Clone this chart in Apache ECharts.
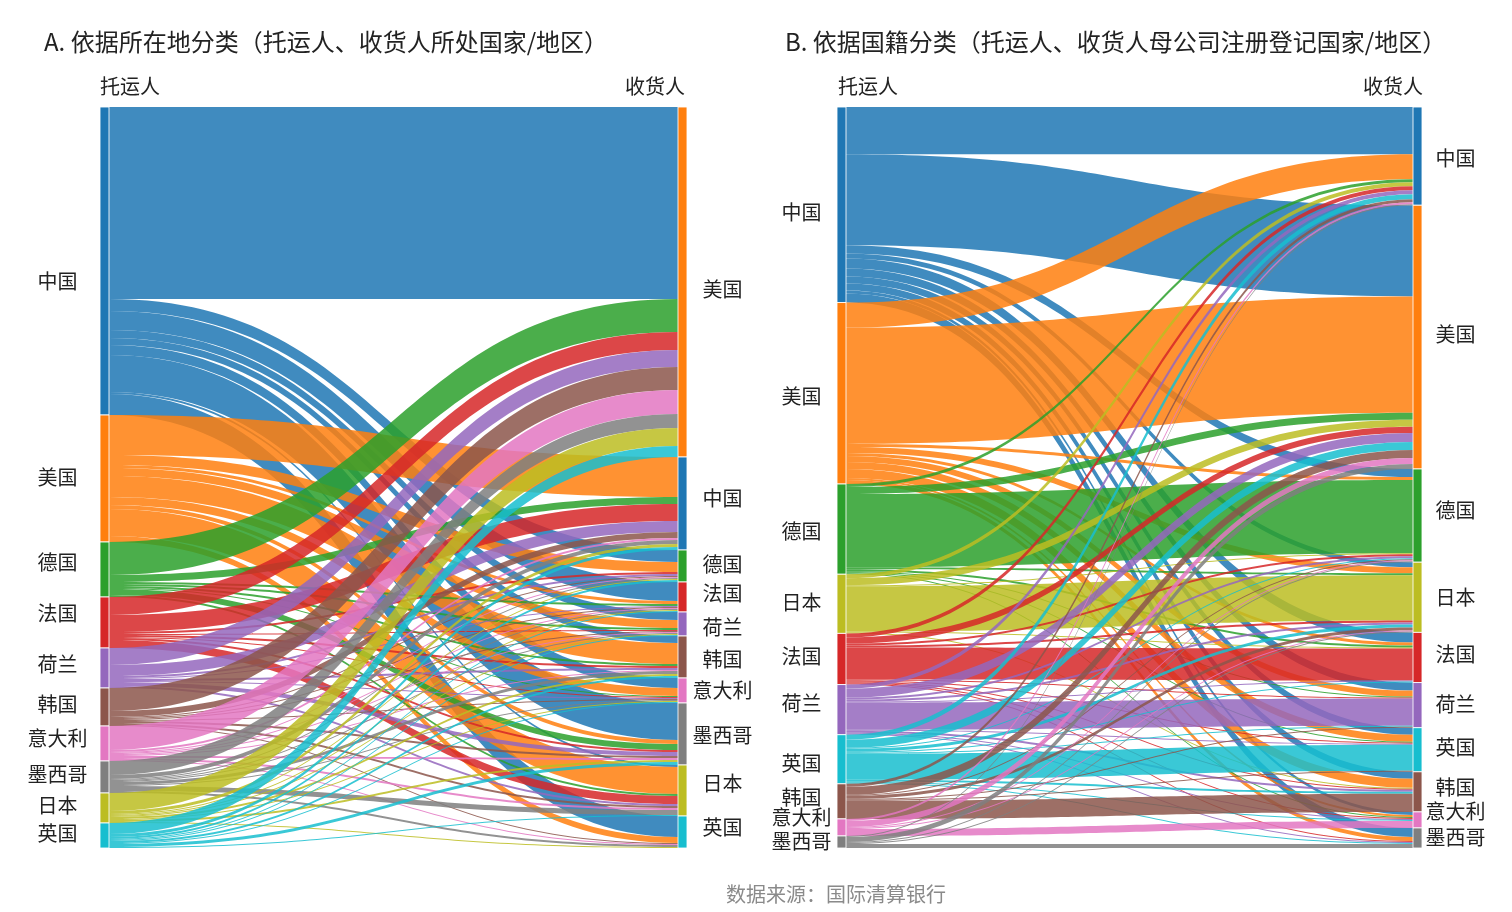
<!DOCTYPE html>
<html>
<head>
<meta charset="utf-8">
<title>托运人与收货人</title>
<script src="https://cdn.jsdelivr.net/npm/echarts@6/dist/echarts.min.js"></script>
<style>
html,body{margin:0;padding:0;background:#fff}
#main{width:1512px;height:912px}
</style>
</head>
<body>
<div id="main"></div>
<script>
var FONT = '"Noto Sans CJK SC", "Noto Sans", sans-serif';

// 国家颜色
var countryNames = ['中国','美国','德国','法国','荷兰','韩国','意大利','墨西哥','日本','英国'];
var countryColors = ['#1f77b4','#ff7f0e','#2ca02c','#d62728','#9467bd','#8c564b','#e377c2','#7f7f7f','#bcbd22','#17becf'];

// A. 依据所在地分类
var aShippers = ['中国','美国','德国','法国','荷兰','韩国','意大利','墨西哥','日本','英国'];
var aConsignees = ['美国','中国','德国','法国','荷兰','韩国','意大利','墨西哥','日本','英国'];
// 每行一个托运人, 列顺序同 aConsignees
var aFromChina   = [192, 0, 12, 19, 8, 7, 10, 37, 2, 21];
var aFromUS      = [0, 40, 10, 3, 8, 21, 8, 4, 27, 6];
var aFromGermany = [33, 7, 0, 2, 2, 2, 1, 6, 2, 0];
var aFromFrance  = [18, 17, 2, 0, 1, 2, 1, 2, 8, 0];
var aFromNL      = [17, 11, 2, 1, 0, 2, 1, 4, 2, 0];
var aFromKorea   = [23, 6, 1, 1, 1, 0, 1, 2, 2, 1];
var aFromItaly   = [24, 2, 1, 1, 1, 1, 0, 2, 2, 1];
var aFromMexico  = [14, 4, 1, 1, 1, 3, 1, 0, 5, 2];
var aFromJapan   = [18, 3, 1, 1, 1, 2, 1, 2, 0, 1];
var aFromUK      = [11, 3, 2, 1, 1, 2, 1, 3, 1, 0];
var aRows = [aFromChina, aFromUS, aFromGermany, aFromFrance, aFromNL, aFromKorea, aFromItaly, aFromMexico, aFromJapan, aFromUK];

// B. 依据国籍分类
var bShippers = ['中国','美国','德国','日本','法国','荷兰','英国','韩国','意大利','墨西哥'];
var bConsignees = ['中国','美国','德国','日本','法国','荷兰','英国','韩国','意大利','墨西哥'];
var bFromChina   = [47, 91, 8, 5, 10, 8, 7, 7, 3, 9];
var bFromUS      = [25, 116, 3, 6, 3, 6, 7, 9, 2, 4];
var bFromGermany = [3, 7, 73, 2, 2, 1, 1, 0, 1, 0];
var bFromJapan   = [4, 7, 1, 45, 1, 0, 0, 1, 0, 0];
var bFromFrance  = [4, 6, 2, 2, 32, 1, 1, 1, 1, 1];
var bFromNL      = [4, 9, 2, 2, 1, 27, 1, 2, 1, 1];
var bFromUK      = [5, 8, 1, 3, 1, 1, 26, 2, 1, 1];
var bFromKorea   = [3, 8, 1, 3, 0, 1, 1, 18, 0, 0];
var bFromItaly   = [2, 6, 1, 1, 0, 0, 0, 0, 7, 0];
var bFromMexico  = [1, 5, 1, 1, 0, 0, 0, 0, 0, 4];
var bRows = [bFromChina, bFromUS, bFromGermany, bFromJapan, bFromFrance, bFromNL, bFromUK, bFromKorea, bFromItaly, bFromMexico];

// 标签上下微调 (像素), 顺序同各列节点
var aLeftNudge  = [20, -1, -7, -9, -4, -3, -5, -3, -3, -2];
var aRightNudge = [7, -5, -2, -4, 3, 2, 0, 1, -7, -5];
var bLeftNudge  = [8, 3, 2, -1, -3, -6, 4, -4, -10, -1];
var bRightNudge = [2, -3, -5, 0, -3, -1, -2, -4, -9, -1];

function colorFor(name){
    return countryColors[countryNames.indexOf(name)];
}

// 左右两列节点名字加前缀区分, 标签里去掉
function buildSankey(tag, shippers, consignees, rows, leftDist, rightDist, leftNudge, rightNudge){
    var nodes = [];
    var links = [];
    shippers.forEach(function(n, i){
        nodes.push({
            name: tag + 'S' + n,
            itemStyle: {color: colorFor(n)},
            label: {position: 'left', distance: leftDist, offset: [0, leftNudge[i]]}
        });
    });
    consignees.forEach(function(n, i){
        nodes.push({
            name: tag + 'R' + n,
            itemStyle: {color: colorFor(n)},
            label: {position: 'right', distance: rightDist, offset: [0, rightNudge[i]]}
        });
    });
    rows.forEach(function(row, i){
        row.forEach(function(v, j){
            if(v > 0){
                links.push({source: tag + 'S' + shippers[i], target: tag + 'R' + consignees[j], value: v});
            }
        });
    });
    return {nodes: nodes, links: links};
}

var sa = buildSankey('A', aShippers, aConsignees, aRows, 42, 35, aLeftNudge, aRightNudge);
var sb = buildSankey('B', bShippers, bConsignees, bRows, 35, 33, bLeftNudge, bRightNudge);

function sankeySeries(s, left, width){
    return {
        type: 'sankey',
        left: left,
        top: 107,
        width: width,
        height: 741,
        nodeWidth: 9,
        nodeGap: 0,
        layoutIterations: 0,
        draggable: false,
        silent: true,
        data: s.nodes,
        links: s.links,
        itemStyle: {borderColor: 'rgba(255,255,255,0.85)', borderWidth: 1},
        lineStyle: {color: 'source', opacity: 0.85, curveness: 0.5},
        label: {
            color: '#222',
            fontFamily: FONT,
            fontSize: 20,
            align: 'center',
            formatter: function(p){ return p.name.slice(2); }
        },
        emphasis: {disabled: true}
    };
}

function txt(x, y, text, size, color, align){
    return {
        type: 'text', x: x, y: y, silent: true,
        style: {text: text, fill: color, font: size + 'px ' + FONT, textAlign: align, textVerticalAlign: 'middle'}
    };
}

var chart = echarts.init(document.getElementById('main'));
chart.setOption({
    backgroundColor: '#fff',
    animation: false,
    series: [
        sankeySeries(sa, 100, 587),
        sankeySeries(sb, 837, 585)
    ],
    graphic: [
        txt(44, 42, 'A. 依据所在地分类（托运人、收货人所处国家/地区）', 24, '#222', 'left'),
        txt(785, 42, 'B. 依据国籍分类（托运人、收货人母公司注册登记国家/地区）', 24, '#222', 'left'),
        txt(100, 86, '托运人', 20, '#222', 'left'),
        txt(685, 86, '收货人', 20, '#222', 'right'),
        txt(838, 86, '托运人', 20, '#222', 'left'),
        txt(1423, 86, '收货人', 20, '#222', 'right'),
        txt(836, 894, '数据来源：国际清算银行', 20, '#8a8a8a', 'center')
    ]
});
</script>
</body>
</html>
